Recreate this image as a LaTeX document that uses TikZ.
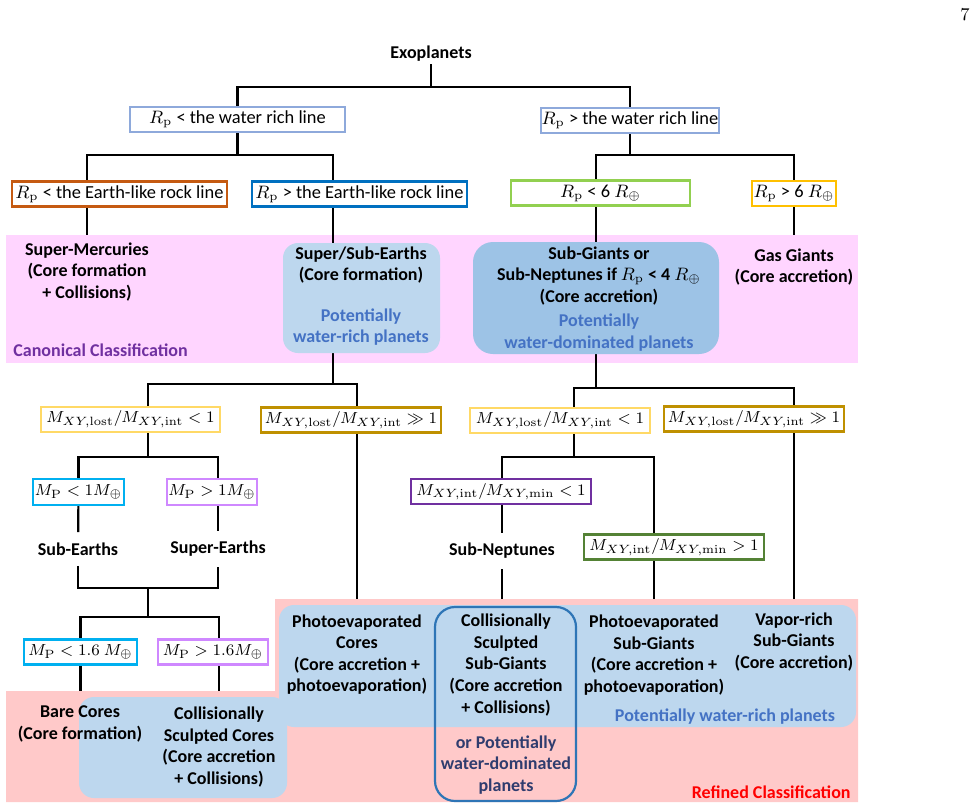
\documentclass[tikz,border=0pt]{standalone}
\usepackage[no-math]{fontspec}
\setmainfont{Carlito}
\definecolor{waterline}{HTML}{8EA9DB}
\definecolor{rocklow}{HTML}{C55A11}
\definecolor{rockhigh}{HTML}{0070C0}
\definecolor{radlow}{HTML}{92D050}
\definecolor{radhigh}{HTML}{FFC000}
\definecolor{lostlow}{HTML}{FFD966}
\definecolor{losthigh}{HTML}{BF9000}
\definecolor{masslow}{HTML}{00B0F0}
\definecolor{masshigh}{HTML}{CF88FF}
\definecolor{intlow}{HTML}{7030A0}
\definecolor{inthigh}{HTML}{548235}
\definecolor{canonpink}{HTML}{FFD5FF}
\definecolor{refinedpink}{HTML}{FFC9C9}
\definecolor{padlight}{HTML}{BDD7EE}
\definecolor{padmid}{HTML}{9DC3E6}
\definecolor{padedge}{HTML}{2E75B6}
\definecolor{wettext}{HTML}{4472C4}
\definecolor{navytext}{HTML}{2F3C6E}
\pgfdeclarelayer{bands}
\pgfdeclarelayer{wires}
\pgfsetlayers{bands,wires,main}

\begin{document}
\begin{tikzpicture}[x=0.5pt,y=-0.5pt,
   every node/.style={font=\fontsize{8.5}{10.8}\selectfont,align=center},
   cond/.style={draw=#1,line width=1.1pt,fill=white,minimum height=12.5pt,inner sep=0pt},
   radius/.style={cond=#1,font=\fontsize{9.2}{11}\selectfont},
   kind/.style={font=\fontsize{9}{10.8}\selectfont\bfseries,inner sep=1pt},
   wire/.style={line width=1.1pt},
   pad/.style={fill=#1,rounded corners=7.5pt}]
  \useasboundingbox (0,0) rectangle (978,809);
  \node[inner sep=0pt] (page) at (965,15) {\fontsize{9}{11}\selectfont$7$};

  \coordinate (ct) at (6,235);
  \coordinate (rt) at (275,599);
  \coordinate (rl) at (6,691);
  \coordinate (j0) at (431,87);
  \coordinate (j1) at (238,155);
  \coordinate (j2) at (630,155);
  \coordinate (j3) at (333,384);
  \coordinate (j4) at (148,457);
  \coordinate (j5) at (148,588);
  \coordinate (j6) at (148,617);
  \coordinate (j7) at (596,388);
  \coordinate (j8) at (574,457);

  \begin{pgfonlayer}{bands}
    \fill[canonpink] (ct) rectangle (858,363);
    \fill[refinedpink] (rt) -- (858,599) -- (858,802) -- (6,802) -- (rl) -- (275,691) -- cycle;
  \end{pgfonlayer}
  \fill[pad=padlight] (283,243) rectangle (440,353);
  \fill[pad=padmid,rounded corners=10pt] (473,242) rectangle (719,354);
  \fill[pad=padlight] (279,605) rectangle (856,727);
  \fill[pad=padlight] (79,697) rectangle (287,798);
  \draw[padedge,line width=1.1pt,rounded corners=10pt] (435,607) rectangle (576,801);

  \node[kind] (exo) at (431,54) {Exoplanets};
  \node[radius=waterline,minimum width=107.5pt] (lw) at (237.5,119.5) {$R_\mathrm{p}$ < the water rich line};
  \node[radius=waterline,minimum width=89pt] (rw) at (630,120.5) {$R_\mathrm{p}$ > the water rich line};
  \node[radius=rocklow,minimum width=107.5pt] (erl) at (119.5,194) {$R_\mathrm{p}$ < the Earth-like rock line};
  \node[radius=rockhigh,minimum width=107.5pt] (erg) at (359.5,194) {$R_\mathrm{p}$ > the Earth-like rock line};
  \node[radius=radlow,minimum width=89.5pt] (r6l) at (600.5,193) {$R_\mathrm{p}$ < 6 $R_\oplus$};
  \node[radius=radhigh,minimum width=42pt] (r6g) at (794,193.5) {$R_\mathrm{p}$ > 6 $R_\oplus$};

  \node[kind] (smerc) at (87,272) {Super-Mercuries\\(Core formation\\+ Collisions)};
  \node[kind] (sse) at (361,265) {Super/Sub-Earths\\(Core formation)};
  \node[kind,text=wettext] (ssew) at (361,327) {Potentially\\water-rich planets};
  \node[kind] (subg) at (599,276) {Sub-Giants or\\Sub-Neptunes if $R_\mathrm{p}$ < 4 $R_\oplus$\\(Core accretion)};
  \node[kind,text=wettext] (subgw) at (599,332.5) {Potentially\\water-dominated planets};
  \node[kind] (gas) at (794,267) {Gas Giants\\(Core accretion)};
  \node[kind,text=intlow,anchor=west,inner sep=0pt] (canon) at (13,350) {Canonical Classification};

  \node[cond=lostlow,minimum width=89.5pt] (mll) at (130.5,419.5) {$M_{XY,\mathrm{lost}}/M_{XY,\mathrm{int}} < 1$};
  \node[cond=losthigh,minimum width=90pt] (mlg) at (351,420) {$M_{XY,\mathrm{lost}}/M_{XY,\mathrm{int}} \gg 1$};
  \node[cond=lostlow,minimum width=90pt] (mrl) at (560,420.5) {$M_{XY,\mathrm{lost}}/M_{XY,\mathrm{int}} < 1$};
  \node[cond=losthigh,minimum width=90pt] (mrg) at (754,419) {$M_{XY,\mathrm{lost}}/M_{XY,\mathrm{int}} \gg 1$};
  \node[cond=masslow,minimum width=45.5pt,minimum height=13pt] (mp1l) at (78.5,492) {$M_\mathrm{P} < 1M_\oplus$};
  \node[cond=masshigh,minimum width=45pt,minimum height=13pt] (mp1g) at (212,492) {$M_\mathrm{P} > 1M_\oplus$};
  \node[cond=intlow,minimum width=90pt] (mil) at (501,491.5) {$M_{XY,\mathrm{int}}/M_{XY,\mathrm{min}} < 1$};
  \node[cond=inthigh,minimum width=90pt] (mig) at (674,547) {$M_{XY,\mathrm{int}}/M_{XY,\mathrm{min}} > 1$};
  \node[kind,inner ysep=5pt] (subE) at (78,549) {Sub-Earths};
  \node[kind,inner ysep=5pt] (supE) at (218,549) {Super-Earths};
  \node[kind,inner ysep=5pt] (subN) at (502,551) {Sub-Neptunes};
  \node[cond=masslow,minimum width=56.5pt] (mp16l) at (80.5,652) {$M_\mathrm{P} < 1.6\ M_\oplus$};
  \node[cond=masshigh,minimum width=55pt] (mp16g) at (213,652) {$M_\mathrm{P} > 1.6M_\oplus$};

  \node[kind] (bare) at (80,724) {Bare Cores\\(Core formation)};
  \node[kind] (cscore) at (219,747) {Collisionally\\Sculpted Cores\\(Core accretion\\+ Collisions)};
  \node[kind] (pcore) at (357,654.5) {Photoevaporated\\Cores\\(Core accretion +\\photoevaporation)};
  \node[kind] (cssg) at (506,665) {Collisionally\\Sculpted\\Sub-Giants\\(Core accretion\\+ Collisions)};
  \node[kind,text=navytext] (cssgw) at (506,765) {or Potentially\\water-dominated\\planets};
  \node[kind] (psg) at (654,655) {Photoevaporated\\Sub-Giants\\(Core accretion +\\photoevaporation)};
  \node[kind] (vsg) at (794,642) {Vapor-rich\\Sub-Giants\\(Core accretion)};
  \node[kind,text=wettext] (wrich) at (725,717) {Potentially water-rich planets};
  \node[kind,text=red,anchor=east,inner sep=0pt] (refined) at (851,792) {Refined Classification};

  \begin{pgfonlayer}{wires}
    \draw[wire] (exo) -- (j0);
    \draw[wire] (lw) |- (j0) -| (rw);
    \draw[wire] (lw) -- (lw |- j1);
    \draw[wire] (erl.north -| smerc) |- (j1) -| (erg.north -| j3);
    \draw[wire] (erl.south -| smerc) -- (smerc.north |- ct);
    \draw[wire] (erg.south -| j3) -- (j3);
    \draw[wire] (rw) -- (j2);
    \draw[wire] (r6l.north -| j7) |- (j2) -| (r6g);
    \draw[wire] (r6l.south -| j7) -- (j7);
    \draw[wire] (r6g) -- (gas.north |- ct);

    \draw[wire] (mll.north -| j4) |- (j3) -| (mlg.north -| pcore);
    \draw[wire] (mll.south -| j4) -- (j4);
    \draw[wire] (mp1l) |- (j4) -| (mp1g.north -| supE);
    \draw[wire] (mp1l) -- (subE);
    \draw[wire] (mp1g.south -| supE) -- (supE);
    \draw[wire] (subE) |- (j5) -| (supE);
    \draw[wire] (j5) -- (j6);
    \draw[wire] (mp16l) |- (j6) -| (mp16g.north -| cscore);
    \draw[wire] (mp16l) -- (mp16l.south |- rl);
    \draw[wire] (mp16g.south -| cscore) -- (cscore.north |- rl);
    \draw[wire] (mlg.south -| pcore) -- (pcore.north |- rt);

    \draw[wire] (mrl.north -| j8) |- (j7) -| (mrg.north -| vsg);
    \draw[wire] (mrl.south -| j8) -- (j8);
    \draw[wire] (mil.north -| subN) |- (j8) -| (mig.north -| psg);
    \draw[wire] (mil.south -| subN) -- (subN);
    \draw[wire] (subN) -- (subN |- rt);
    \draw[wire] (mig.south -| psg) -- (psg.north |- rt);
    \draw[wire] (mrg.south -| vsg) -- (vsg.north |- rt);
  \end{pgfonlayer}
\end{tikzpicture}
\end{document}
